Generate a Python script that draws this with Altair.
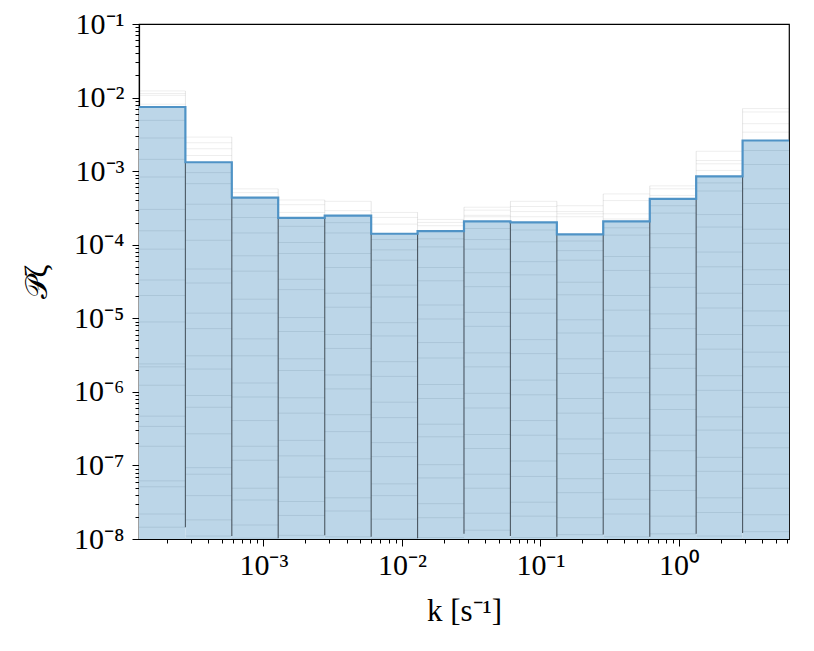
import altair as alt
import pandas as pd

# ---------------- data ----------------
# bin edges in k [s^-1] (log-spaced)
k_edges = [1.265e-4, 2.735e-4, 5.916e-4, 1.279e-3, 2.772e-3, 5.998e-3, 1.297e-2,
           2.805e-2, 6.067e-2, 0.1313, 0.2838, 0.6152, 1.330, 2.877, 6.223]
# median power per bin
p_median = [7.45e-3, 1.32e-3, 4.36e-4, 2.31e-4, 2.48e-4, 1.41e-4, 1.53e-4,
            2.07e-4, 2.01e-4, 1.38e-4, 2.07e-4, 4.19e-4, 8.5e-4, 2.61e-3]
p_floor = 1e-8

# log10 levels of faint sample lines above the median, per bin
upper_log = [
    [-1.91, -1.945, -1.969, -2.09],
    [-2.537, -2.614, -2.696, -2.787],
    [-3.241, -3.292],
    [-3.392, -3.456, -3.561],
    [-3.41, -3.537],
    [-3.561, -3.629, -3.72],
    [-3.656, -3.697, -3.742],
    [-3.49, -3.53, -3.60, -3.62],
    [-3.41, -3.48, -3.55, -3.62],
    [-3.47, -3.55, -3.58, -3.62],
    [-3.31, -3.40, -3.58, -3.65],
    [-3.20, -3.24, -3.33],
    [-2.73, -2.855, -2.90, -2.99],
    [-2.15, -2.196, -2.355, -2.47],
]
# log10 levels of sample lines seen inside the filled bars, per bin
inner_log = [
    [-7.84, -7.66, -7.29, -7.21, -6.74, -6.47, -6.33, -5.91, -5.66, -5.62, -5.05, -4.69, -4.48, -4.06, -3.81, -3.52, -3.08, -2.84, -2.55, -2.31],
    [-7.96, -7.74, -7.41, -7.12, -7.03, -6.57, -6.21, -6.05, -5.69, -5.51, -5.14, -4.93, -4.52, -4.33, -3.94, -3.66, -3.45, -3.17, -3.02],
    [-7.99, -7.81, -7.47, -7.31, -6.93, -6.74, -6.39, -6.07, -5.88, -5.51, -5.28, -4.93, -4.74, -4.36, -4.15, -3.84, -3.63, -3.45],
    [-7.95, -7.68, -7.49, -7.16, -6.87, -6.66, -6.29, -6.08, -5.71, -5.55, -5.18, -4.99, -4.61, -4.47, -4.12, -3.97, -3.75],
    [-7.97, -7.62, -7.44, -7.08, -6.91, -6.54, -6.31, -5.96, -5.77, -5.41, -5.22, -4.85, -4.66, -4.31, -4.12, -3.84, -3.70],
    [-7.99, -7.73, -7.41, -7.25, -6.88, -6.69, -6.35, -6.14, -5.79, -5.59, -5.24, -5.06, -4.71, -4.55, -4.21, -4.07, -3.93],
    [-7.98, -7.71, -7.52, -7.17, -6.99, -6.61, -6.44, -6.09, -5.90, -5.54, -5.33, -5.01, -4.82, -4.49, -4.31, -4.03, -3.92],
    [-7.88, -7.65, -7.31, -7.12, -6.77, -6.58, -6.22, -6.02, -5.66, -5.47, -5.11, -4.92, -4.57, -4.38, -4.06, -3.93, -3.78],
    [-7.98, -7.69, -7.50, -7.15, -6.94, -6.59, -6.39, -6.04, -5.84, -5.48, -5.29, -4.93, -4.74, -4.41, -4.23, -3.96, -3.80],
    [-7.94, -7.71, -7.37, -7.18, -6.84, -6.64, -6.29, -6.09, -5.75, -5.55, -5.20, -5.02, -4.68, -4.51, -4.21, -4.08, -3.95],
    [-7.97, -7.66, -7.46, -7.11, -6.92, -6.56, -6.36, -6.01, -5.81, -5.45, -5.24, -4.89, -4.69, -4.35, -4.16, -3.87, -3.77],
    [-7.93, -7.69, -7.34, -7.14, -6.80, -6.59, -6.24, -6.04, -5.68, -5.49, -5.14, -4.94, -4.58, -4.39, -4.04, -3.85, -3.57, -3.47],
    [-7.96, -7.64, -7.44, -7.08, -6.89, -6.52, -6.34, -5.98, -5.78, -5.42, -5.22, -4.86, -4.66, -4.30, -4.10, -3.76, -3.59, -3.27, -3.16],
    [-7.90, -7.67, -7.31, -7.12, -6.76, -6.56, -6.21, -6.01, -5.66, -5.46, -5.10, -4.90, -4.54, -4.34, -3.98, -3.79, -3.44, -3.24, -2.91, -2.72],
]
# log10 of the lowest sample at each interior bin edge
edge_floor_log = [-7.84, -7.96, -7.99, -7.95, -7.97, -7.99, -7.93, -7.96, -7.97, -7.94, -7.97, -7.93, -7.92]

# axis ticks
x_decades = [1e-3, 1e-2, 1e-1, 1e0]
y_decades = [1e-8, 1e-7, 1e-6, 1e-5, 1e-4, 1e-3, 1e-2, 1e-1]
minor_mult = [2, 3, 4, 5, 6, 7, 8, 9]

# ---------------- tables ----------------
n = len(p_median)
bins = pd.DataFrame({"k_lo": k_edges[:-1], "k_hi": k_edges[1:], "P": p_median,
                     "base": [p_floor] * n})

inner_rows, upper_rows = [], []
for i in range(n):
    for v in inner_log[i]:
        inner_rows.append({"k_lo": k_edges[i], "k_hi": k_edges[i + 1], "P": 10 ** v})
    for v in upper_log[i]:
        upper_rows.append({"k_lo": k_edges[i], "k_hi": k_edges[i + 1], "P": 10 ** v})
inner = pd.DataFrame(inner_rows)
upper = pd.DataFrame(upper_rows)

edge_rows, uedge_rows = [], []
for j in range(n - 1):
    lo = min(p_median[j], p_median[j + 1])
    hi = max(10 ** max(upper_log[j]), 10 ** max(upper_log[j + 1]), max(p_median[j], p_median[j + 1]))
    edge_rows.append({"k_lo": k_edges[j + 1], "P": lo, "P2": 10 ** edge_floor_log[j]})
    uedge_rows.append({"k_lo": k_edges[j + 1], "P": lo, "P2": hi})
edges = pd.DataFrame(edge_rows)
uedges = pd.DataFrame(uedge_rows)

step = pd.DataFrame({"k_lo": k_edges, "P": p_median + [p_median[-1]]})

# ---------------- axes ----------------
def minors(decs, lo, hi):
    out = []
    for d in decs:
        for m in [1] + minor_mult:
            v = m * d
            if lo <= v <= hi:
                out.append(v)
    return sorted(set(out))

x_vals = minors([1e-4] + x_decades, k_edges[0], k_edges[-1])
y_vals = minors(y_decades, 1e-8, 1e-1)

is_dec = "abs(log(datum.value)/LN10 - round(log(datum.value)/LN10)) < 0.01"
lab = ("(" + is_dec + ") ? '10' + (round(log(datum.value)/LN10) < 0 ? '⁻' : '') + "
       "['⁰','¹','²','³','⁴','⁵','⁶','⁷','⁸','⁹'][abs(round(log(datum.value)/LN10))] : ''")

FONT = "Liberation Serif"
common_axis = dict(
    grid=False, labelExpr=lab, labelFont=FONT, labelFontSize=30, labelColor="black",
    labelOverlap=False, labelFlush=False,
    tickColor="black", tickWidth=1,
    tickSize={"condition": {"test": is_dec, "value": 7}, "value": 4},
    domainColor="black", domainWidth=1.2,
    titleFont=FONT, titleColor="black", titleFontWeight="normal",
)

xscale = alt.Scale(type="log", domain=[k_edges[0], k_edges[-1]], nice=False)
yscale = alt.Scale(type="log", domain=[1e-8, 1e-1], nice=False)

x_axis = alt.Axis(values=x_vals, title="k [s⁻¹]", labelPadding=4, titlePadding=16,
                  titleFontSize=31, **common_axis)
y_axis = alt.Axis(values=y_vals, title="𝒫ζ", labelPadding=8, titlePadding=20,
                  titleFontSize=31, **common_axis)

X = alt.X("k_lo:Q", scale=xscale, axis=x_axis)
Y = alt.Y("P:Q", scale=yscale, axis=y_axis)

fill = alt.Chart(bins).mark_rect(color="#bcd6e8", opacity=1).encode(
    x=X, x2="k_hi:Q", y=Y, y2="base:Q",
)
inner_lines = alt.Chart(inner).mark_rule(color="#1d3a52", opacity=0.1, strokeWidth=1).encode(
    x=X, x2="k_hi:Q", y=Y,
)
upper_lines = alt.Chart(upper).mark_rule(color="black", opacity=0.07, strokeWidth=1).encode(
    x=X, x2="k_hi:Q", y=Y,
)
edge_lines = alt.Chart(edges).mark_rule(color="#2b3640", opacity=0.8, strokeWidth=1.1).encode(
    x=X, y=Y, y2="P2:Q",
)
uedge_lines = alt.Chart(uedges).mark_rule(color="black", opacity=0.1, strokeWidth=1).encode(
    x=X, y=Y, y2="P2:Q",
)
median_line = alt.Chart(step).mark_line(color="#4f93c6", strokeWidth=2.2, interpolate="step-after").encode(
    x=X, y=Y,
)

chart = alt.layer(fill, inner_lines, upper_lines, uedge_lines, edge_lines, median_line).properties(
    width=650, height=515,
    autosize=alt.AutoSizeParams(type="none"),
    padding={"left": 131, "top": 16, "right": 10, "bottom": 100},
    background="white",
).configure_view(stroke="black", strokeWidth=1.2)

chart.save("out.html", embed_options={"renderer": "svg", "actions": False})
